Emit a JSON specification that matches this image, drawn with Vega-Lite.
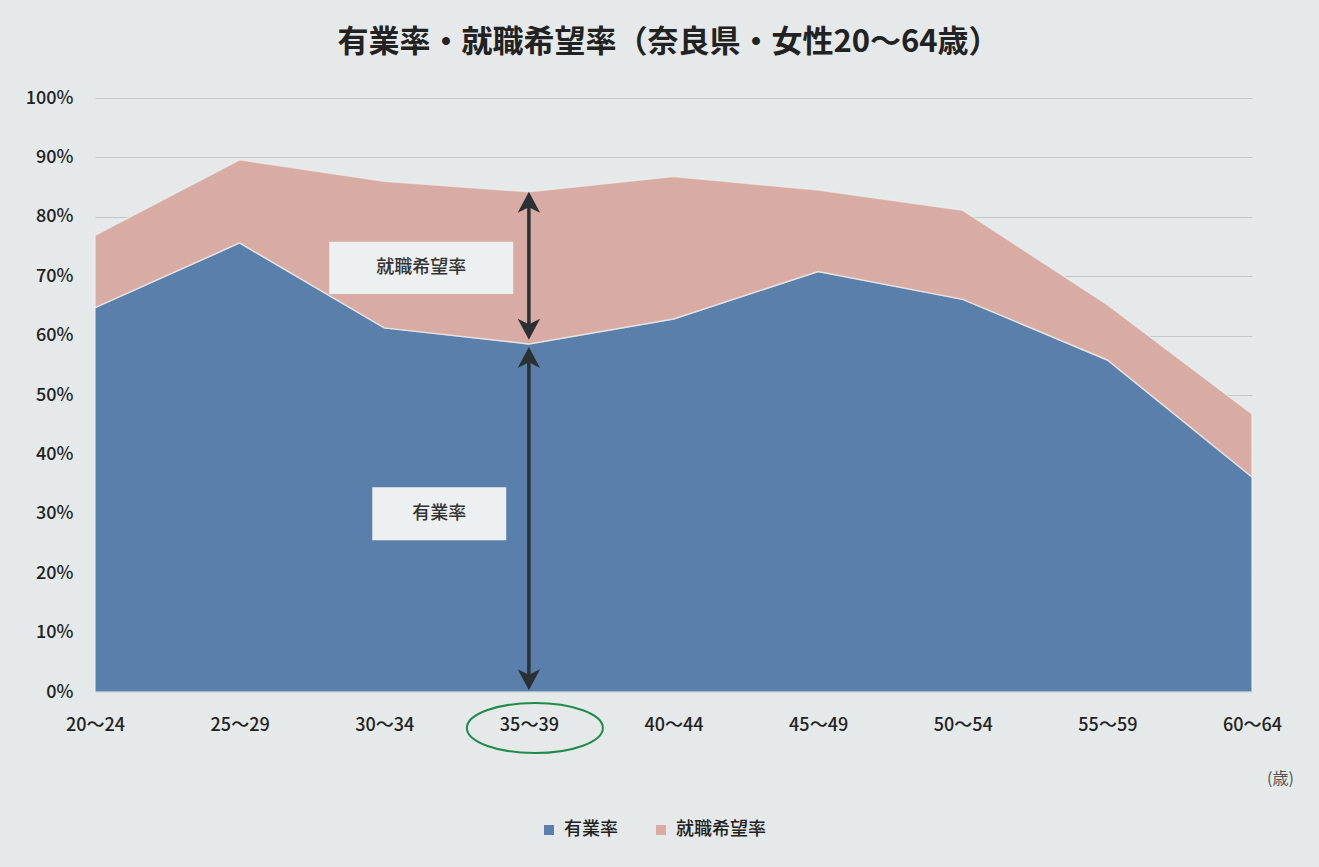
{
  "$schema": "https://vega.github.io/schema/vega-lite/v6.json",
  "width": 1157,
  "height": 594,
  "autosize": "none",
  "padding": {"left": 95, "top": 98, "right": 67, "bottom": 175},
  "background": "#e5e9e9",
  "config": {
    "view": {"stroke": null},
    "font": "Noto Sans CJK JP"
  },
  "title": {
    "text": "有業率・就職希望率（奈良県・女性20〜64歳）",
    "fontSize": 31,
    "fontWeight": "bold",
    "font": "Noto Sans CJK JP",
    "color": "#222222",
    "anchor": "middle",
    "offset": 30,
    "dx": -5
  },
  "layer": [
    {
      "data": {
        "values": [
          {"age": "20〜24", "series": "有業率", "ord": 1, "value": 0.647},
          {"age": "25〜29", "series": "有業率", "ord": 1, "value": 0.756},
          {"age": "30〜34", "series": "有業率", "ord": 1, "value": 0.613},
          {"age": "35〜39", "series": "有業率", "ord": 1, "value": 0.586},
          {"age": "40〜44", "series": "有業率", "ord": 1, "value": 0.628},
          {"age": "45〜49", "series": "有業率", "ord": 1, "value": 0.708},
          {"age": "50〜54", "series": "有業率", "ord": 1, "value": 0.661},
          {"age": "55〜59", "series": "有業率", "ord": 1, "value": 0.559},
          {"age": "60〜64", "series": "有業率", "ord": 1, "value": 0.362},
          {"age": "20〜24", "series": "就職希望率", "ord": 2, "value": 0.122},
          {"age": "25〜29", "series": "就職希望率", "ord": 2, "value": 0.140},
          {"age": "30〜34", "series": "就職希望率", "ord": 2, "value": 0.247},
          {"age": "35〜39", "series": "就職希望率", "ord": 2, "value": 0.256},
          {"age": "40〜44", "series": "就職希望率", "ord": 2, "value": 0.240},
          {"age": "45〜49", "series": "就職希望率", "ord": 2, "value": 0.137},
          {"age": "50〜54", "series": "就職希望率", "ord": 2, "value": 0.150},
          {"age": "55〜59", "series": "就職希望率", "ord": 2, "value": 0.093},
          {"age": "60〜64", "series": "就職希望率", "ord": 2, "value": 0.106}
        ]
      },
      "mark": {"type": "area", "stroke": "#eef0f0", "strokeWidth": 1.5, "strokeOpacity": 0.7},
      "encoding": {
        "x": {
          "field": "age",
          "type": "ordinal",
          "scale": {"type": "point", "padding": 0},
          "axis": {
            "labelAngle": 0,
            "labelFontSize": 18,
            "labelFontWeight": 500,
            "labelColor": "#222222",
            "labelPadding": 24,
            "ticks": false,
            "domain": false,
            "grid": false,
            "title": "(歳)",
            "titleFontSize": 16,
            "titleColor": "#555555",
            "titleFontWeight": "normal",
            "titleX": 1185,
            "titleY": 86,
            "titleAlign": "center",
            "titleBaseline": "middle"
          }
        },
        "y": {
          "field": "value",
          "type": "quantitative",
          "stack": "zero",
          "scale": {"domain": [0, 1]},
          "axis": {
            "values": [0, 0.1, 0.2, 0.3, 0.4, 0.5, 0.6, 0.7, 0.8, 0.9, 1],
            "format": ".0%",
            "labelFontSize": 18,
            "labelFontWeight": 500,
            "labelColor": "#222222",
            "labelPadding": 22,
            "ticks": false,
            "domain": false,
            "gridColor": "#c4c8c8",
            "gridWidth": 1.2,
            "title": null
          }
        },
        "color": {
          "field": "series",
          "type": "nominal",
          "scale": {"domain": ["有業率", "就職希望率"], "range": ["#5a7fab", "#d8aca5"]},
          "legend": {
            "title": null,
            "orient": "none",
            "direction": "horizontal",
            "legendX": 445,
            "legendY": 723,
            "symbolType": "square",
            "symbolSize": 100,
            "symbolStrokeWidth": 0,
            "labelFontSize": 18,
            "labelFontWeight": 500,
            "labelColor": "#222222",
            "columnPadding": 34,
            "labelOffset": 6
          }
        },
        "order": {"field": "ord", "type": "quantitative"}
      }
    },
    {
      "data": {"values": [{"age": "30〜34", "y": 0.714}]},
      "mark": {"type": "point", "filled": true, "shape": "M -1 -0.283 L 1 -0.283 L 1 0.283 L -1 0.283 Z", "size": 33856, "color": "#edf0f0", "opacity": 1, "strokeWidth": 0},
      "encoding": {
        "x": {"field": "age", "type": "ordinal"},
        "y": {"field": "y", "type": "quantitative"},
        "xOffset": {"value": 37}
      }
    },
    {
      "data": {"values": [{"age": "30〜34", "y": 0.300}]},
      "mark": {"type": "point", "filled": true, "shape": "M -1 -0.395 L 1 -0.395 L 1 0.395 L -1 0.395 Z", "size": 17956, "color": "#edf0f0", "opacity": 1, "strokeWidth": 0},
      "encoding": {
        "x": {"field": "age", "type": "ordinal"},
        "y": {"field": "y", "type": "quantitative"},
        "xOffset": {"value": 55}
      }
    },
    {
      "data": {
        "values": [
          {"age": "30〜34", "y": 0.714, "label": "就職希望率", "shift": 37},
          {"age": "30〜34", "y": 0.300, "label": "有業率", "shift": 55}
        ]
      },
      "mark": {"type": "text", "fontSize": 18, "fontWeight": 500, "color": "#333333", "align": "center", "baseline": "middle"},
      "encoding": {
        "x": {"field": "age", "type": "ordinal"},
        "y": {"field": "y", "type": "quantitative"},
        "xOffset": {"field": "shift", "type": "quantitative", "scale": null},
        "text": {"field": "label"}
      }
    },
    {
      "data": {
        "values": [
          {"age": "35〜39", "y1": 0.822, "y2": 0.605},
          {"age": "35〜39", "y1": 0.570, "y2": 0.015}
        ]
      },
      "mark": {"type": "rule", "strokeWidth": 3.5, "color": "#2b3034"},
      "encoding": {
        "x": {"field": "age", "type": "ordinal"},
        "y": {"field": "y1", "type": "quantitative"},
        "y2": {"field": "y2"}
      }
    },
    {
      "data": {
        "values": [
          {"age": "35〜39", "y": 0.842, "head": "up"},
          {"age": "35〜39", "y": 0.593, "head": "down"},
          {"age": "35〜39", "y": 0.581, "head": "up"},
          {"age": "35〜39", "y": 0.003, "head": "down"}
        ]
      },
      "mark": {"type": "point", "filled": true, "size": 784, "opacity": 1, "strokeWidth": 0, "color": "#2b3034"},
      "encoding": {
        "x": {"field": "age", "type": "ordinal"},
        "y": {"field": "y", "type": "quantitative"},
        "shape": {
          "field": "head",
          "type": "nominal",
          "scale": {"domain": ["up", "down"], "range": ["M 0 0 L 0.8 1.5 L 0 1.1 L -0.8 1.5 Z", "M 0 0 L 0.8 -1.5 L 0 -1.1 L -0.8 -1.5 Z"]},
          "legend": null
        }
      }
    },
    {
      "data": {"values": [{"age": "35〜39", "y": -0.0606}]},
      "mark": {"type": "point", "filled": false, "shape": "M -1 0 A 1 0.368 0 1 0 1 0 A 1 0.368 0 1 0 -1 0 Z", "size": 18496, "color": "#1f8a4c", "strokeWidth": 2, "opacity": 1},
      "encoding": {
        "x": {"field": "age", "type": "ordinal"},
        "y": {"field": "y", "type": "quantitative"},
        "xOffset": {"value": 6}
      }
    }
  ]
}
